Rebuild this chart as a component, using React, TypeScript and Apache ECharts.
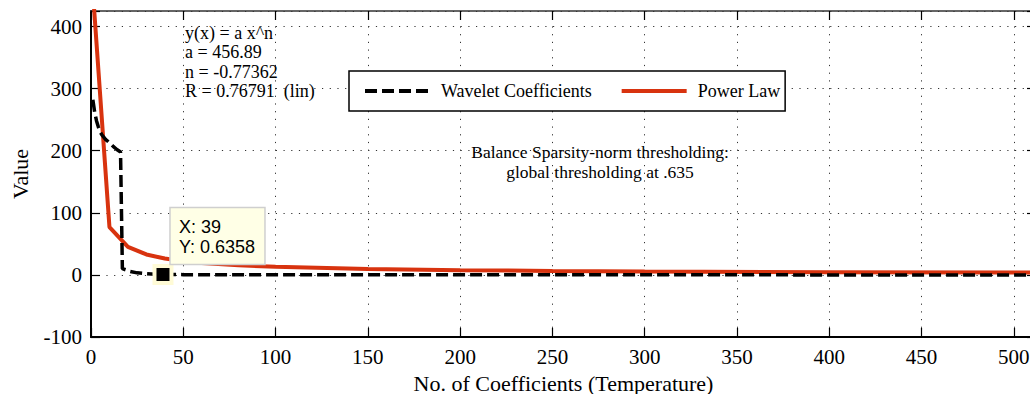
import React, { useEffect, useRef } from 'react';
import * as echarts from 'echarts';

const waveletX = [1, 2, 3, 4, 5, 6, 8, 10, 12, 14, 16, 17, 19, 21, 25, 30, 35, 39, 50, 100, 200, 300, 400, 512];
const waveletY = [282, 262, 248, 238, 230, 225, 218, 213, 207, 202, 198, 10, 8, 5.8, 3.3, 2, 1, 0.6358, 0.45, 0.3, 0.15, 0.08, 0.04, 0.01];
const powerX = [1, 10, 20, 30, 40, 50, 60, 80, 100, 150, 200, 250, 300, 400, 512];
const powerY = [456.89, 76.9, 45.0, 32.9, 26.3, 22.2, 19.2, 15.4, 12.96, 9.47, 7.58, 6.38, 5.54, 4.44, 3.66];
const seriesNames = ['Wavelet Coefficients', 'Power Law'];
const fitText = ['y(x) = a x^n', 'a = 456.89', 'n = -0.77362', 'R = 0.76791  (lin)'];
const noteText = ['Balance Sparsity-norm thresholding:', 'global thresholding at .635'];
const tipPoint = [39, 0.6358];
const xName = 'No. of Coefficients (Temperature)';
const yName = 'Value';

export default function App() {
  const ref = useRef<HTMLDivElement>(null);
  useEffect(() => {
    const chart = echarts.init(ref.current!, null, { renderer: 'svg' });
    const serif = 'Liberation Serif';
    const gridLine = { show: true, lineStyle: { color: '#333', width: 1, type: [1.2, 6.5] } };
    const xBase = { type: 'value', min: 0, max: 512, interval: 50 };
    const yBase = { type: 'value', min: -100, max: 425, interval: 100 };
    chart.setOption({
      animation: false,
      backgroundColor: '#fff',
      grid: { left: 91, top: 11, width: 945, height: 326, outerBoundsMode: 'none', containLabel: false },
      legend: {
        left: 349,
        top: 71,
        data: seriesNames,
        itemWidth: 65,
        itemHeight: 4,
        itemGap: 28,
        padding: [11, 5, 11, 14],
        borderColor: '#000',
        borderWidth: 1.5,
        backgroundColor: '#fff',
        itemStyle: { opacity: 0 },
        lineStyle: { width: 4 },
        textStyle: { fontFamily: serif, fontSize: 18, color: '#000', padding: [0, 0, 0, 6] },
      },
      xAxis: [
        {
          ...xBase,
          position: 'bottom',
          name: xName,
          nameLocation: 'middle',
          nameGap: 35,
          nameTextStyle: { fontFamily: serif, fontSize: 22, color: '#000' },
          axisLine: { show: true, onZero: false, lineStyle: { color: '#000', width: 2 } },
          axisTick: { show: true, inside: true, length: 9, lineStyle: { color: '#000', width: 1.2 } },
          axisLabel: {
            fontFamily: serif, fontSize: 21, color: '#000', margin: 9,
            formatter: (v: number) => (v % 50 === 0 ? String(v) : ''),
          },
          splitLine: gridLine,
        },
        {
          ...xBase,
          position: 'top',
          axisLine: { show: true, onZero: false, lineStyle: { color: '#333', width: 1.5 } },
          axisTick: { show: true, inside: true, length: 9, lineStyle: { color: '#000', width: 1.2 } },
          axisLabel: { show: false },
          splitLine: { show: false },
        },
      ],
      yAxis: [
        {
          ...yBase,
          position: 'left',
          name: yName,
          nameLocation: 'middle',
          nameGap: 60,
          nameTextStyle: { fontFamily: serif, fontSize: 22, color: '#000' },
          axisLine: { show: true, onZero: false, lineStyle: { color: '#000', width: 2 } },
          axisTick: { show: true, inside: true, length: 9, lineStyle: { color: '#000', width: 1.2 } },
          axisLabel: {
            fontFamily: serif, fontSize: 21, color: '#000', margin: 9,
            formatter: (v: number) => (v % 100 === 0 ? String(v) : ''),
          },
          splitLine: gridLine,
        },
        {
          ...yBase,
          position: 'right',
          axisLine: { show: true, onZero: false, lineStyle: { color: '#000', width: 1.5 } },
          axisTick: { show: true, inside: true, length: 9, lineStyle: { color: '#000', width: 1.2 } },
          axisLabel: { show: false },
          splitLine: { show: false },
        },
      ],
      series: [
        {
          name: seriesNames[0],
          type: 'line',
          data: waveletX.map((x, i) => [x, waveletY[i]]),
          symbol: 'none',
          z: 3,
          lineStyle: { color: '#000', width: 3.5, type: [12, 5] },
          itemStyle: { color: '#000' },
        },
        {
          name: seriesNames[1],
          type: 'line',
          data: powerX.map((x, i) => [x, powerY[i]]),
          symbol: 'none',
          z: 2,
          lineStyle: { color: '#d8330f', width: 4 },
          itemStyle: { color: '#d8330f' },
        },
        {
          name: 'Data Tip',
          type: 'scatter',
          data: [tipPoint],
          symbol: 'rect',
          symbolSize: 17,
          z: 5,
          itemStyle: { color: '#000', opacity: 1, borderColor: '#fffbd6', borderWidth: 4 },
        },
      ],
    });
    const [px, py] = chart.convertToPixel({ seriesIndex: 0 }, tipPoint) as number[];
    chart.setOption({
      graphic: [
        {
          type: 'text',
          left: 185,
          top: 23,
          style: {
            text: fitText.join('\n'),
            font: `18px ${serif}`,
            lineHeight: 19.5,
            fill: '#000',
          },
        },
        {
          type: 'text',
          x: 600,
          y: 142,
          style: {
            text: noteText.join('\n'),
            font: `17.5px ${serif}`,
            lineHeight: 20,
            fill: '#000',
            align: 'center',
            verticalAlign: 'top',
          },
        },
        {
          type: 'rect',
          z: 100,
          shape: { x: px + 7, y: py - 67, width: 95, height: 57 },
          style: { fill: '#ffffe6', stroke: '#cfcfcf', lineWidth: 1.5 },
        },
        {
          type: 'text',
          z: 101,
          x: px + 16,
          y: py - 58,
          style: {
            text: `X: ${tipPoint[0]}\nY: ${tipPoint[1]}`,
            font: '18px Liberation Sans',
            lineHeight: 20,
            fill: '#000',
            verticalAlign: 'top',
          },
        },
      ],
    });
    return () => chart.dispose();
  }, []);
  return <div ref={ref} style={{ position: 'fixed', left: 0, top: 0, width: 1030, height: 394 }} />;
}
